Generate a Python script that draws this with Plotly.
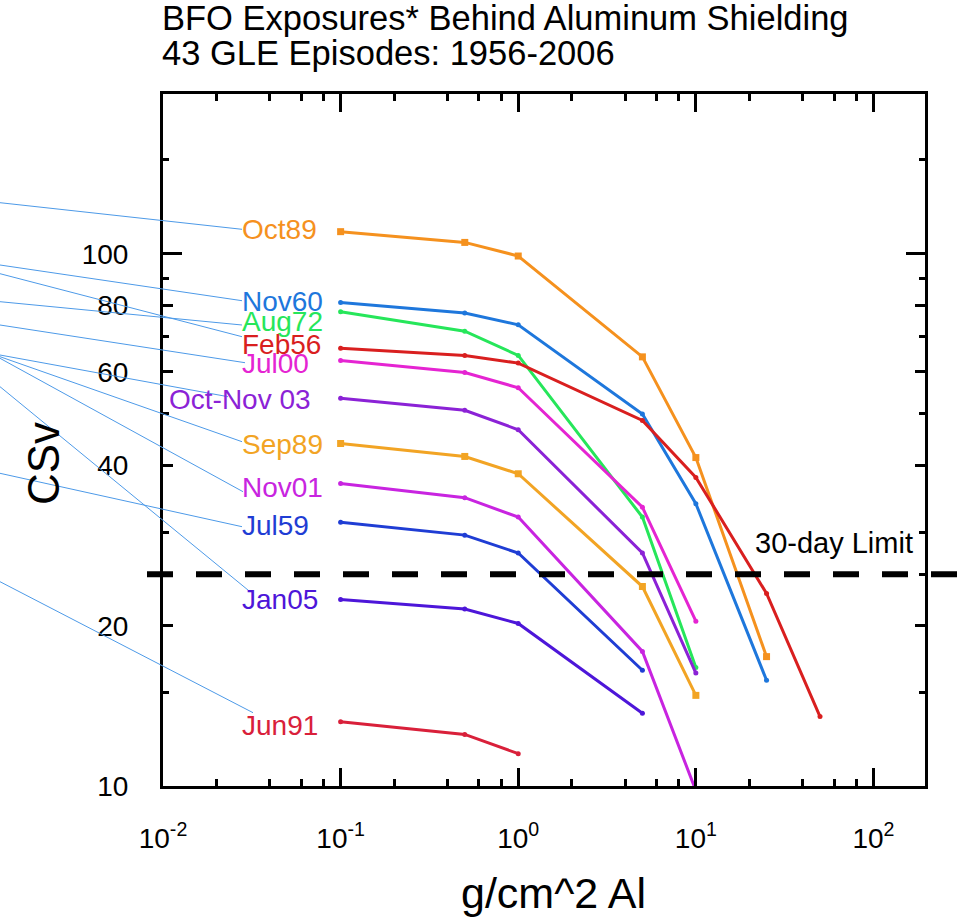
import plotly.graph_objects as go

# ---------------- data ----------------
thickness = [0.1, 0.5, 1, 5, 10, 25, 50]   # g/cm^2 Al

series_names = ["Oct89", "Nov60", "Aug72", "Feb56", "Jul00", "Oct-Nov 03",
                "Sep89", "Nov01", "Jul59", "Jan05", "Jun91"]
oct89 = [110, 105, 99, 64, 41.4, 17.5]
nov60 = [81, 77.4, 73.5, 50, 33.9, 15.8]
aug72 = [77.8, 71.5, 64.4, 32, 16.7]
feb56 = [66.4, 64.4, 62.3, 48.6, 38, 23, 13.5]
jul00 = [63, 59.8, 56, 33.4, 20.4]
octnov03 = [53.5, 50.8, 46.7, 27.4, 16.3]
sep89 = [44, 41.6, 38.6, 23.7, 14.8]
nov01 = [37, 34.8, 32, 17.9, 9.8]
jul59 = [31.3, 29.6, 27.4, 16.5]
jan05 = [22.4, 21.5, 20.2, 13.7]
jun91 = [13.2, 12.5, 11.5]
series_values = [oct89, nov60, aug72, feb56, jul00, octnov03,
                 sep89, nov01, jul59, jan05, jun91]

limit_30day = 25  # cSv

x_tickvals = [0.01, 0.1, 1, 10, 100]
x_ticktext = ["10<sup>-2</sup>", "10<sup>-1</sup>", "10<sup>0</sup>",
              "10<sup>1</sup>", "10<sup>2</sup>"]
y_tickvals = [10, 20, 40, 60, 80, 100]
y_ticktext = ["10", "20", "40", "60", "80", "100"]

# ---------------- styling ----------------
colors = ["#F5911E", "#1E77DC", "#26E65A", "#D91F1F", "#E524D2", "#8B22D6",
          "#F2A424", "#C824E0", "#1F3DD4", "#4D16D9", "#D9203A"]
symbols = ["square", "circle", "circle", "circle", "circle", "circle",
           "square", "circle", "circle", "circle", "circle"]
FONT = "Arial, Liberation Sans, sans-serif"

W, H = 980, 922
L, R, T, B = 163, 925, 94, 786
PW, PH = R - L, B - T


def px(x):
    return (x - L) / PW


def py(y):
    return (B - y) / PH


# label placement (pixel: left x, centre y) and leader line start/end
label_pos = [(241, 229), (241, 301), (241, 321), (241, 344), (241, 363),
             (168, 399), (241, 444), (241, 487), (241, 525), (241, 599), (241, 725)]
leader = [((0, 202.7), (242, 229.3)), ((0, 265), (242, 300.7)),
          ((0, 301.7), (242, 325)), ((0, 273.7), (242, 336.7)),
          ((0, 325), (245, 362.7)), ((0, 355), (228, 396.7)),
          ((0, 356.7), (242, 441.7)), ((0, 358.3), (243, 491.7)),
          ((0, 473.3), (242, 526.7)), ((0, 386.7), (250, 591.7)),
          ((0, 581.7), (253, 712.7))]

fig = go.Figure()

for name, vals, col, sym in zip(series_names, series_values, colors, symbols):
    fig.add_trace(go.Scatter(
        x=thickness[:len(vals)], y=vals, mode="lines+markers", name=name,
        line=dict(color=col, width=3),
        marker=dict(color=col, symbol=sym, size=7 if sym == "square" else 5),
        showlegend=False))

# invisible trace to activate secondary axes (long ticks at 10 and 100)
fig.add_trace(go.Scatter(x=[1], y=[10], xaxis="x2", yaxis="y2",
                         mode="markers", marker=dict(opacity=0),
                         showlegend=False, hoverinfo="skip"))

shapes = []
for (x0, y0), (x1, y1) in leader:
    shapes.append(dict(type="line", xref="paper", yref="paper",
                       x0=px(x0), y0=py(y0), x1=px(x1), y1=py(y1),
                       line=dict(color="#4D9AE8", width=1), layer="above"))
shapes.append(dict(type="line", xref="paper", yref="y",
                   x0=px(147), x1=px(968), y0=limit_30day, y1=limit_30day,
                   line=dict(color="black", width=6, dash="26px,23px"),
                   layer="above"))

annotations = []
for name, col, (lx, ly) in zip(series_names, colors, label_pos):
    annotations.append(dict(text=name, xref="paper", yref="paper",
                            x=px(lx), y=py(ly), xanchor="left", yanchor="middle",
                            showarrow=False, borderpad=0,
                            font=dict(family=FONT, size=28, color=col)))
annotations.append(dict(text="30-day Limit", xref="paper", yref="paper",
                        x=px(753), y=py(543), xanchor="left", yanchor="middle",
                        showarrow=False,
                        font=dict(family=FONT, size=29, color="black")))
annotations.append(dict(text="BFO Exposures* Behind Aluminum Shielding",
                        xref="paper", yref="paper", x=px(160), y=py(18),
                        xanchor="left", yanchor="middle", showarrow=False,
                        font=dict(family=FONT, size=34.5, color="black")))
annotations.append(dict(text="43 GLE Episodes: 1956-2006",
                        xref="paper", yref="paper", x=px(160), y=py(53),
                        xanchor="left", yanchor="middle", showarrow=False,
                        font=dict(family=FONT, size=34.5, color="black")))
annotations.append(dict(text="g/cm^2 Al", xref="paper", yref="paper",
                        x=px(553), y=py(893), xanchor="center", yanchor="middle",
                        showarrow=False,
                        font=dict(family=FONT, size=43, color="black")))
annotations.append(dict(text="CSv", xref="paper", yref="paper",
                        x=px(43), y=py(464), xanchor="center", yanchor="middle",
                        textangle=-90, showarrow=False,
                        font=dict(family=FONT, size=44, color="black")))

minor_x = [m * 10 ** e for e in (-2, -1, 0, 1, 2) for m in (2, 4, 6, 8)]
minor_y = [15, 25, 30, 50, 70, 90, 150]

xrange = [-2, 2.29]
yrange = [1, 2.3]

fig.update_layout(
    width=W, height=H,
    margin=dict(l=L, r=W - R, t=T, b=H - B, pad=0),
    paper_bgcolor="white", plot_bgcolor="white",
    font=dict(family=FONT, size=28, color="black"),
    xaxis=dict(type="log", range=xrange, tickmode="array",
               tickvals=x_tickvals, ticktext=x_ticktext,
               ticks="inside", ticklen=18, tickwidth=3, tickcolor="black",
               showline=True, linewidth=3, linecolor="black", mirror="ticks",
               showgrid=False, zeroline=False,
               tickfont=dict(family=FONT, size=28), ticklabelstandoff=25,
               minor=dict(tickmode="array", tickvals=minor_x, ticks="inside",
                          ticklen=7, tickwidth=3, tickcolor="black",
                          showgrid=False)),
    yaxis=dict(type="log", range=yrange, tickmode="array",
               tickvals=y_tickvals, ticktext=y_ticktext,
               ticks="inside", ticklen=10, tickwidth=3, tickcolor="black",
               showline=True, linewidth=3, linecolor="black", mirror="ticks",
               showgrid=False, zeroline=False,
               tickfont=dict(family=FONT, size=28), ticklabelstandoff=26,
               minor=dict(tickmode="array", tickvals=minor_y, ticks="inside",
                          ticklen=6, tickwidth=3, tickcolor="black",
                          showgrid=False)),
    xaxis2=dict(type="log", range=xrange, overlaying="x", side="bottom",
                showticklabels=False, showgrid=False, zeroline=False,
                showline=False, ticks=""),
    yaxis2=dict(type="log", range=yrange, overlaying="y", side="left",
                tickmode="array", tickvals=[10, 100], ticks="inside",
                ticklen=19, tickwidth=3, tickcolor="black",
                showticklabels=False, showgrid=False, zeroline=False,
                showline=True, linewidth=3, linecolor="black", mirror="ticks"),
    shapes=shapes,
    annotations=annotations,
)

fig.write_html("out.html")
